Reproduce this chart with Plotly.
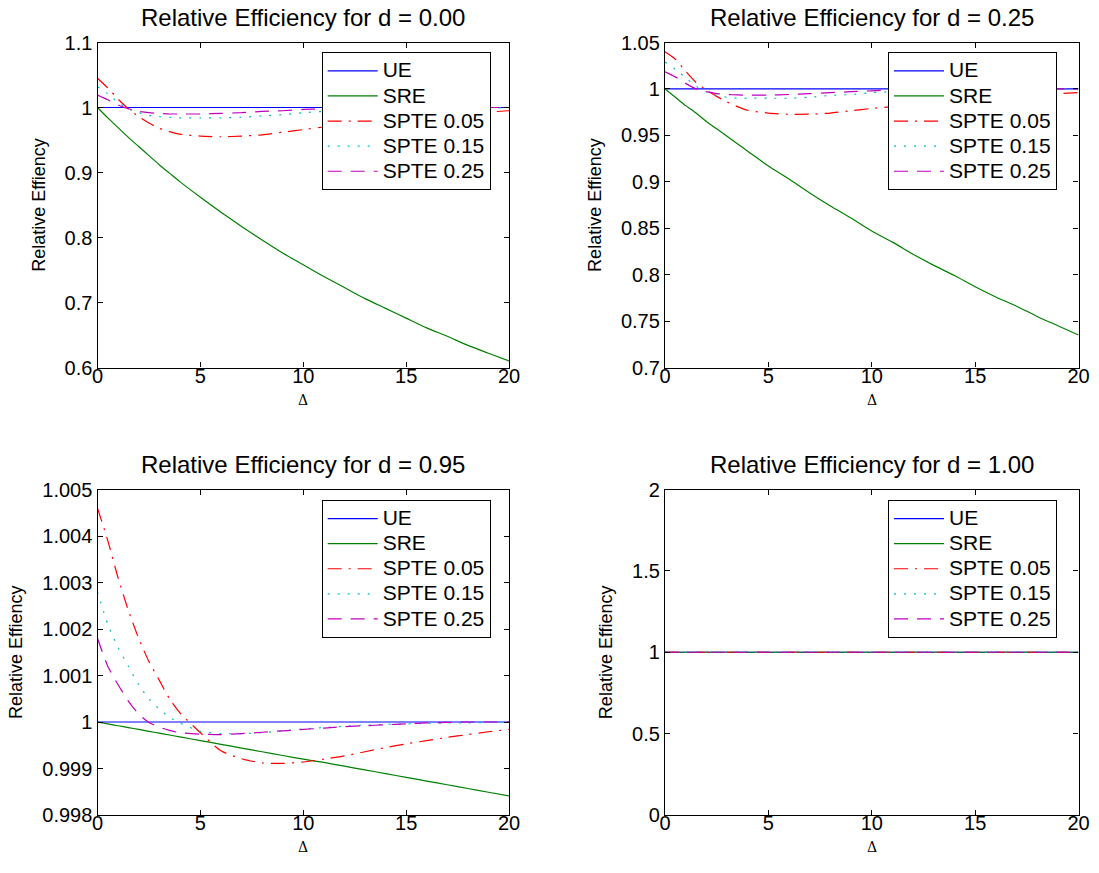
import plotly.graph_objects as go

# ---------------- data ----------------
delta = [0, 0.5, 1, 1.5, 2, 2.5, 3, 3.5, 4, 5, 6, 7, 8, 9, 10, 11, 12, 13, 14, 15, 16, 17, 18, 19, 20]
series_names = ["UE", "SRE", "SPTE 0.05", "SPTE 0.15", "SPTE 0.25"]
panel_titles = ["Relative Efficiency for d = 0.00", "Relative Efficiency for d = 0.25",
                "Relative Efficiency for d = 0.95", "Relative Efficiency for d = 1.00"]
x_tick_vals = [0, 5, 10, 15, 20]
x_tick_text = ["0", "5", "10", "15", "20"]
x_label = "Δ"
y_label = "Relative Effiency"

# d = 0.00
ue_000 = [1.0] * len(delta)
sre_000 = [1.0, 0.984, 0.969, 0.954, 0.940, 0.926, 0.912, 0.899, 0.886, 0.862, 0.839, 0.817, 0.796,
           0.776, 0.758, 0.740, 0.723, 0.706, 0.691, 0.676, 0.661, 0.648, 0.634, 0.622, 0.610]
spte05_000 = [1.045, 1.030, 1.013, 0.998, 0.986, 0.976, 0.968, 0.963, 0.959, 0.956, 0.955, 0.956, 0.958,
              0.962, 0.966, 0.970, 0.974, 0.978, 0.981, 0.984, 0.987, 0.989, 0.991, 0.993, 0.995]
spte15_000 = [1.032, 1.021, 1.008, 0.998, 0.992, 0.988, 0.986, 0.985, 0.984, 0.984, 0.984, 0.985, 0.987,
              0.989, 0.992, 0.994, 0.995, 0.996, 0.997, 0.998, 0.998, 0.999, 0.999, 0.999, 1.0]
spte25_000 = [1.019, 1.012, 1.004, 0.998, 0.994, 0.992, 0.991, 0.990, 0.990, 0.990, 0.991, 0.992, 0.994,
              0.995, 0.997, 0.998, 0.998, 0.999, 0.999, 0.9995, 1.0, 1.0, 1.0, 1.0, 1.0]

# d = 0.25
ue_025 = [1.0] * len(delta)
sre_025 = [1.0, 0.991, 0.982, 0.974, 0.965, 0.957, 0.949, 0.941, 0.933, 0.917, 0.903, 0.888, 0.874,
           0.861, 0.847, 0.835, 0.822, 0.810, 0.799, 0.787, 0.776, 0.766, 0.755, 0.745, 0.735]
spte05_025 = [1.040, 1.032, 1.019, 1.007, 0.999, 0.992, 0.986, 0.981, 0.977, 0.974, 0.9727, 0.9728, 0.974,
              0.9765, 0.979, 0.981, 0.984, 0.986, 0.988, 0.990, 0.992, 0.993, 0.994, 0.995, 0.996]
spte15_025 = [1.029, 1.021, 1.012, 1.003, 0.997, 0.993, 0.991, 0.990, 0.990, 0.990, 0.990, 0.991, 0.993,
              0.994, 0.996, 0.997, 0.998, 0.998, 0.999, 0.999, 0.9995, 1.0, 1.0, 1.0, 1.0]
spte25_025 = [1.0185, 1.013, 1.006, 1.000, 0.997, 0.995, 0.994, 0.9935, 0.9933, 0.9934, 0.994, 0.995, 0.996,
              0.997, 0.998, 0.9988, 0.9992, 0.9995, 0.9997, 0.9998, 1.0, 1.0, 1.0, 1.0, 1.0]

# d = 0.95
ue_095 = [1.0] * len(delta)
sre_095 = [1.0, 0.99996, 0.99992, 0.99988, 0.99984, 0.99980, 0.99976, 0.99972, 0.99968, 0.99960, 0.99952,
           0.99944, 0.99936, 0.99928, 0.99920, 0.99913, 0.99905, 0.99897, 0.99889, 0.99881, 0.99873,
           0.99865, 0.99857, 0.99849, 0.99841]
spte05_095 = [1.0046, 1.0039, 1.0031, 1.0024, 1.0018, 1.0013, 1.0009, 1.0005, 1.0002, 0.99977, 0.99938,
              0.99921, 0.99912, 0.99911, 0.99914, 0.99920, 0.99927, 0.99936, 0.99945, 0.99953, 0.99960,
              0.99967, 0.99973, 0.99979, 0.99984]
spte15_095 = [1.0028, 1.0021, 1.0016, 1.0012, 1.0008, 1.0005, 1.00028, 1.0001, 0.99998, 0.99980, 0.99975,
              0.99975, 0.99977, 0.99981, 0.99985, 0.99988, 0.99991, 0.99993, 0.99995, 0.99996, 0.99997,
              0.99998, 0.99998, 0.99999, 0.99999]
spte25_095 = [1.0018, 1.0012, 1.0008, 1.00045, 1.00017, 0.99999, 0.99989, 0.99982, 0.99977, 0.99974, 0.99973,
              0.99975, 0.99978, 0.99981, 0.99984, 0.99987, 0.99990, 0.99992, 0.99994, 0.99996, 0.99998,
              0.99999, 1.0, 1.0, 1.0]

# d = 1.00
ue_100 = [1.0] * len(delta)
sre_100 = [1.0] * len(delta)
spte05_100 = [1.0] * len(delta)
spte15_100 = [1.0] * len(delta)
spte25_100 = [1.0] * len(delta)

panels = [
    [ue_000, sre_000, spte05_000, spte15_000, spte25_000],
    [ue_025, sre_025, spte05_025, spte15_025, spte25_025],
    [ue_095, sre_095, spte05_095, spte15_095, spte25_095],
    [ue_100, sre_100, spte05_100, spte15_100, spte25_100],
]

y_ranges = [[0.6, 1.1], [0.7, 1.05], [0.998, 1.005], [0, 2]]
y_tick_vals = [
    [0.6, 0.7, 0.8, 0.9, 1.0, 1.1],
    [0.7, 0.75, 0.8, 0.85, 0.9, 0.95, 1.0, 1.05],
    [0.998, 0.999, 1.0, 1.001, 1.002, 1.003, 1.004, 1.005],
    [0, 0.5, 1, 1.5, 2],
]
y_tick_text = [
    ["0.6", "0.7", "0.8", "0.9", "1", "1.1"],
    ["0.7", "0.75", "0.8", "0.85", "0.9", "0.95", "1", "1.05"],
    ["0.998", "0.999", "1", "1.001", "1.002", "1.003", "1.004", "1.005"],
    ["0", "0.5", "1", "1.5", "2"],
]

# ---------------- styling ----------------
colors = ["#0000FF", "#008000", "#FF0000", "#00BFBF", "#BF00BF"]
dashes = ["solid", "solid", "14px,7px,2px,7px", "2px,8px", "14px,9px"]

W, H = 1099, 873


def px_x(v):
    return v / W


def px_y(v):
    return 1 - v / H


x_domains = [[px_x(97.5), px_x(509)], [px_x(665), px_x(1078.5)]]
y_domains = [[px_y(367.5), px_y(42.5)], [px_y(815), px_y(489.5)]]
legend_pos = [(px_x(321.7), px_y(52.3)), (px_x(888), px_y(52.3)),
              (px_x(321.7), px_y(500)), (px_x(888), px_y(500))]

FONT = "Liberation Sans, Arial, sans-serif"

fig = go.Figure()
layout = dict(
    template="none",
    width=W, height=H, autosize=False,
    margin=dict(l=0, r=0, t=0, b=0, pad=0),
    paper_bgcolor="white", plot_bgcolor="white",
    font=dict(family=FONT, color="black"),
    annotations=[],
)

for p in range(4):
    row, col = divmod(p, 2)
    ax = "" if p == 0 else str(p + 1)
    for s in range(5):
        fig.add_trace(go.Scatter(
            x=delta, y=panels[p][s], mode="lines",
            name='<span style="font-size:21px">' + series_names[s] + "</span>",
            line=dict(color=colors[s], width=1.2, dash=dashes[s], shape="spline", smoothing=0.6),
            xaxis="x" + ax, yaxis="y" + ax,
            legend="legend" + ax,
        ))
    common = dict(showline=True, linecolor="black", linewidth=1.3, mirror="ticks",
                  ticks="inside", ticklen=5, tickcolor="black", tickwidth=1,
                  showgrid=False, zeroline=False, automargin=False,
                  tickfont=dict(family=FONT, size=20, color="black"))
    layout["xaxis" + ax] = dict(
        common, domain=x_domains[col], range=[0, 20], anchor="y" + ax,
        tickvals=x_tick_vals, ticktext=x_tick_text, ticklabelstandoff=-10,
    )
    layout["yaxis" + ax] = dict(
        common, domain=y_domains[row], range=y_ranges[p], anchor="x" + ax,
        tickvals=y_tick_vals[p], ticktext=y_tick_text[p],
        title=dict(text=y_label, font=dict(family=FONT, size=18), standoff=14),
    )
    lx, ly = legend_pos[p]
    layout["legend" + ax] = dict(
        x=lx, y=ly, xanchor="left", yanchor="top", xref="paper", yref="paper",
        bgcolor="white", bordercolor="black", borderwidth=1,
        font=dict(family=FONT, size=17, color="black"),
        itemwidth=50, tracegroupgap=0, traceorder="normal",
    )
    layout["annotations"].append(dict(
        text=panel_titles[p], xref="paper", yref="paper",
        x=sum(x_domains[col]) / 2, y=y_domains[row][1],
        xanchor="center", yanchor="bottom", yshift=10, showarrow=False,
        font=dict(family=FONT, size=24, color="black"),
    ))
    layout["annotations"].append(dict(
        text=x_label, xref="x" + ax, yref="paper",
        x=10, y=y_domains[row][0],
        xanchor="center", yanchor="top", yshift=-22, showarrow=False,
        font=dict(family="DejaVu Serif, serif", size=14, color="black"),
    ))

fig.update_layout(**layout)
# remove the browser's default 8px body margin so the figure fills the window exactly
fig.write_html("out.html", config={"displayModeBar": False},
               post_script="document.body.style.margin='0px';")
